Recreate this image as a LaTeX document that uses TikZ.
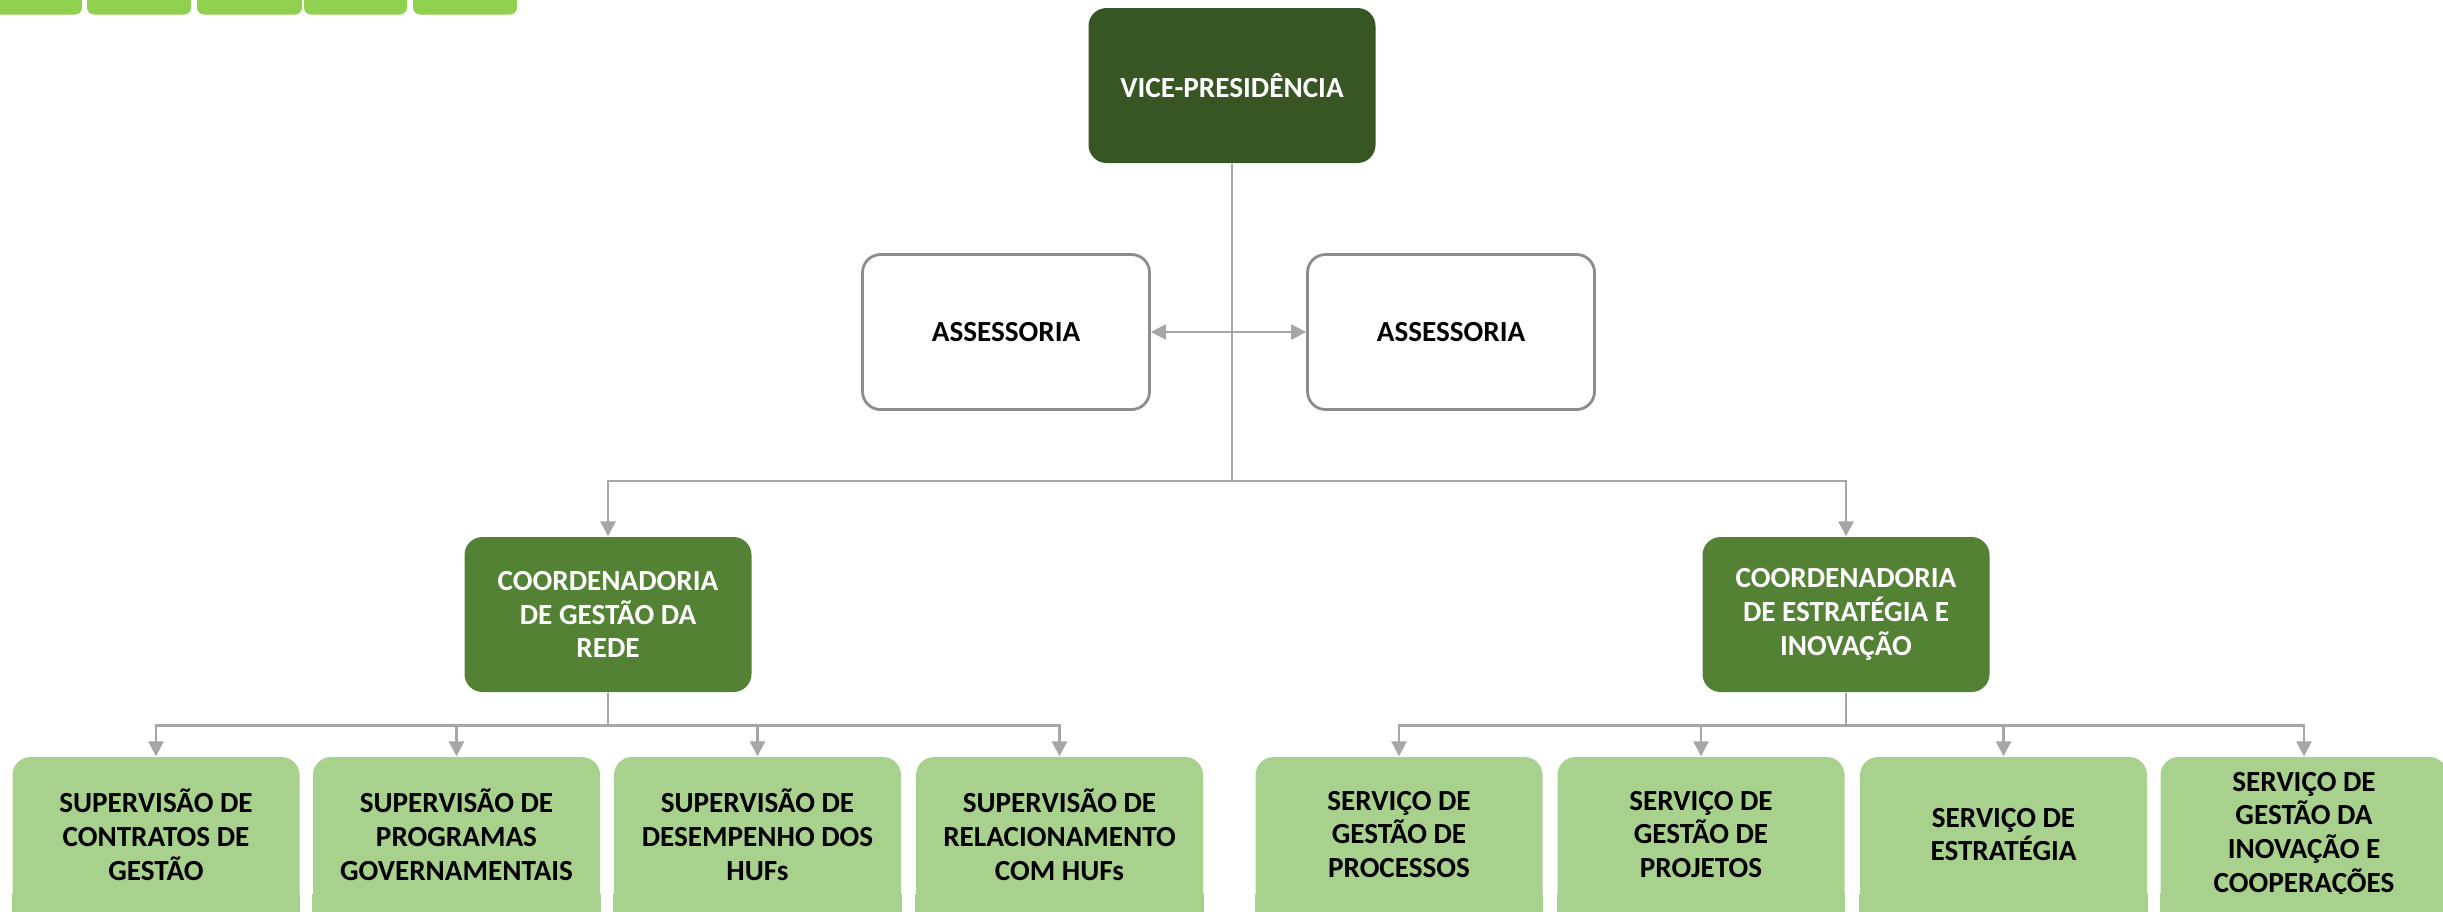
\documentclass[tikz,border=0pt]{standalone}
\usepackage{fontspec}
\setmainfont{Carlito}
\usetikzlibrary{arrows.meta}

\definecolor{vpgreen}{HTML}{375623}
\definecolor{coordgreen}{HTML}{548235}
\definecolor{unitgreen}{HTML}{A9D18E}
\definecolor{bargreen}{HTML}{92D050}
\definecolor{linegray}{HTML}{A6A6A6}
\definecolor{boxgray}{HTML}{8C8C8C}

\begin{document}
\begin{tikzpicture}[
font=\bfseries\fontsize{8.3}{9.6}\selectfont,
box/.style={rectangle,rounded corners=0.18cm,minimum width=2.87cm,minimum height=1.55cm,align=center,inner sep=2pt},
vp/.style={box,fill=vpgreen,text=white},
coord/.style={box,fill=coordgreen,text=white},
advisor/.style={box,draw=boxgray,line width=0.8pt,fill=white},
unit/.style={box,fill=unitgreen},
link/.style={draw=linegray,line width=0.75pt},
arrowlink/.style={-{Triangle[length=0.15cm,width=0.15cm]}}
]
\useasboundingbox (0,0) rectangle (24.43,-9.11);
\clip (0,0) rectangle (24.43,-9.11);

% bars cut off at the top edge
\foreach \xa/\xb in {-0.2/0.82,0.87/1.91,1.97/3.02,3.04/4.07,4.13/5.17}
  \fill[bargreen,rounded corners=0.07cm] (\xa,0.3) rectangle (\xb,-0.145);

\node[vp] (vp) at (12.32,-0.855) {VICE-PRESIDÊNCIA};
\node[advisor] (adv1) at (10.06,-3.32) {ASSESSORIA};
\node[advisor] (adv2) at (14.51,-3.32) {ASSESSORIA};

\node[coord] (cgr) at (6.08,-6.145) {COORDENADORIA\\DE GESTÃO DA\\REDE};
\node[coord] (cei) at (18.46,-6.145) {COORDENADORIA\\DE ESTRATÉGIA E\\INOVAÇÃO};

\node[unit] (sup1) at (1.56,-8.345) {SUPERVISÃO DE\\CONTRATOS DE\\GESTÃO};
\node[unit] (sup2) at (4.565,-8.345) {SUPERVISÃO DE\\PROGRAMAS\\GOVERNAMENTAIS};
\node[unit] (sup3) at (7.575,-8.345) {SUPERVISÃO DE\\DESEMPENHO DOS\\HUFs};
\node[unit] (sup4) at (10.595,-8.345) {SUPERVISÃO DE\\RELACIONAMENTO\\COM HUFs};
\node[unit] (srv1) at (13.99,-8.345) {SERVIÇO DE\\GESTÃO DE\\PROCESSOS};
\node[unit] (srv2) at (17.01,-8.345) {SERVIÇO DE\\GESTÃO DE\\PROJETOS};
\node[unit] (srv3) at (20.035,-8.345) {SERVIÇO DE\\ESTRATÉGIA};
\node[unit] (srv4) at (23.04,-8.345) {SERVIÇO DE\\GESTÃO DA\\INOVAÇÃO E\\COOPERAÇÕES};

% boxes run past the bottom edge
\foreach \n in {sup1,sup2,sup3,sup4,srv1,srv2,srv3,srv4}
  \fill[unitgreen] ([yshift=0.19cm]\n.south west) rectangle ([yshift=-0.3cm]\n.south east);

% connectors
\coordinate (hub) at (12.32,-4.81);
\draw[link] (vp.south) -- (hub);
\draw[link,arrowlink] (hub) -| (cgr.north);
\draw[link,arrowlink] (hub) -| (cei.north);
\draw[link,{Triangle[length=0.15cm,width=0.15cm]}-{Triangle[length=0.15cm,width=0.15cm]}] (adv1.east) -- (adv2.west);

\foreach \n in {sup1,sup2,sup3,sup4}
  \draw[link,arrowlink] (cgr.south) -- ++(0,-0.325) -| (\n.north);
\foreach \n in {srv1,srv2,srv3,srv4}
  \draw[link,arrowlink] (cei.south) -- ++(0,-0.325) -| (\n.north);

\end{tikzpicture}
\end{document}
